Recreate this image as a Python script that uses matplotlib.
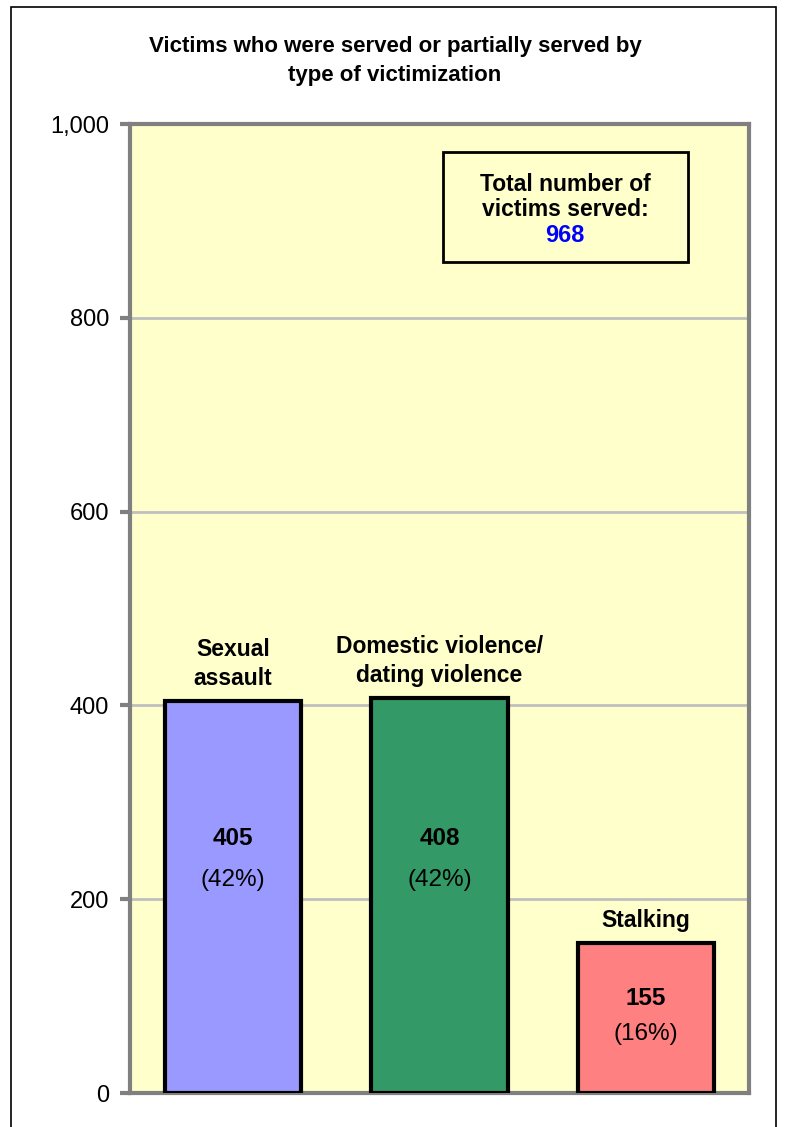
import matplotlib.pyplot as plt
from matplotlib.patches import Rectangle

plt.rcParams['font.family'] = ['Liberation Sans', 'DejaVu Sans']

categories = ["Sexual\nassault", "Domestic violence/\ndating violence", "Stalking"]
victims = [405, 408, 155]
total_served = 968
bar_colors = ['#9999FF', '#339966', '#FF8080']
y_ticks = [0, 200, 400, 600, 800, 1000]
tick_labels = ["0", "200", "400", "600", "800", "1,000"]

fig = plt.figure(figsize=(7.88, 11.27), dpi=100)
ax = fig.add_axes([130 / 788, 1 - 1093 / 1127, 619 / 788, 969 / 1127])
ax.set_facecolor('#FFFFCC')

x = range(len(victims))
ax.bar(x, victims, width=0.66, color=bar_colors, edgecolor='black', linewidth=3, zorder=3)

ax.set_xlim(-0.5, 2.5)
ax.set_ylim(0, 1000)
ax.set_yticks(y_ticks)
ax.set_yticklabels(tick_labels, fontsize=17)
ax.set_xticks([])
ax.tick_params(axis='y', length=7, width=3, color='#808080', pad=8)
ax.yaxis.grid(True, color='#C0C0C0', linewidth=2, zorder=0)
for s in ax.spines.values():
    s.set_color('#808080')
    s.set_linewidth(3)

# labels above and inside the bars
inner_y = [(263, 220), (263, 220), (98, 61)]
for i, v in enumerate(victims):
    ax.text(i, v + 11, categories[i], ha='center', va='bottom', fontsize=16.5,
            fontweight='bold', linespacing=1.35, zorder=4)
    pct = round(100 * v / total_served)
    ax.text(i, inner_y[i][0], str(v), ha='center', va='center', fontsize=17.5,
            fontweight='bold', zorder=4)
    ax.text(i, inner_y[i][1], f"({pct}%)", ha='center', va='center', fontsize=17.5, zorder=4)

# total box
box = Rectangle((443 / 788, 1 - 262 / 1127), 245 / 788, 110 / 1127, transform=fig.transFigure,
                facecolor='none', edgecolor='black', linewidth=2)
fig.patches.append(box)
fig.text(565 / 788, 1 - 197 / 1127, "Total number of\nvictims served:", ha='center', va='center',
         fontsize=16.5, fontweight='bold', linespacing=1.15)
fig.text(565 / 788, 1 - 236 / 1127, str(total_served), ha='center', va='center',
         fontsize=17, fontweight='bold', color='#0000FF')

fig.text(395 / 788, 1 - 61 / 1127, "Victims who were served or partially served by\ntype of victimization",
         ha='center', va='center', fontsize=16, fontweight='bold', linespacing=1.45)

# outer border
border = Rectangle((11 / 788, -0.02), 765 / 788, 1.02 - 7 / 1127, transform=fig.transFigure,
                   facecolor='none', edgecolor='black', linewidth=1.2)
fig.patches.append(border)

fig.savefig('out.png', dpi=100)
